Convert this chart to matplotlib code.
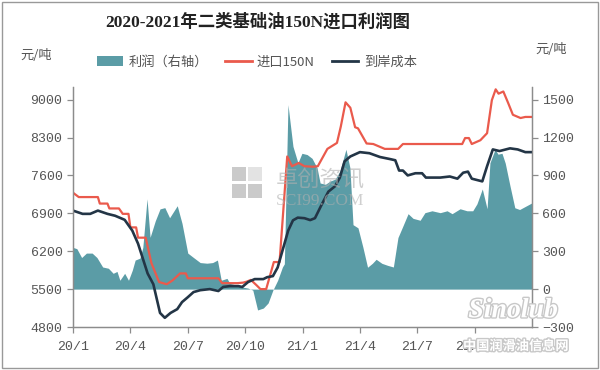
import numpy as np
import matplotlib
matplotlib.use("Agg")
import matplotlib.pyplot as plt
from matplotlib.patches import Patch, Rectangle
from matplotlib.lines import Line2D
import matplotlib.patheffects as pe

# months counted from 2020/1 (0) to end of 2021 (24)
red_x = [0.0, 0.3, 1.3, 1.4, 1.8, 1.9, 2.4, 2.6, 2.9, 3.0, 3.3, 3.4, 3.8, 4.1, 4.5,
         4.9, 5.2, 5.6, 5.9, 6.0, 7.6, 7.8, 8.6, 8.9, 9.1, 9.3, 9.6, 9.8, 10.1, 10.5,
         10.8, 11.2, 11.45, 11.8, 12.1, 12.55, 12.8, 13.3, 13.8, 14.0, 14.25, 14.5,
         14.75, 14.9, 15.35, 15.7, 16.3, 17.0, 17.25, 20.35, 20.5, 20.7, 20.85, 21.3,
         21.65, 21.9, 22.1, 22.25, 22.5, 22.75, 23.0, 23.4, 23.65, 24.0]
red_y = [7280, 7200, 7200, 7080, 7080, 6990, 6990, 6890, 6890, 6640, 6640, 6450, 6450, 5980, 5630,
         5590, 5660, 5790, 5790, 5700, 5700, 5610, 5610, 5620, 5640, 5670, 5570, 5500, 5500, 6000,
         6000, 7950, 7770, 7830, 7770, 7760, 7770, 8090, 8200, 8500, 8950, 8850,
         8490, 8470, 8190, 8180, 8090, 8090, 8180, 8180, 8290, 8290, 8180, 8250,
         8380, 8990, 9190, 9110, 9150, 8940, 8720, 8660, 8680, 8680]

cost_x = [0.0, 0.5, 0.9, 1.3, 1.8, 2.2, 2.7, 3.1, 3.4, 3.9, 4.2, 4.55, 4.8, 5.1, 5.45,
          5.7, 6.0, 6.3, 6.65, 7.15, 7.6, 7.85, 8.2, 8.65, 8.85, 9.15, 9.5, 9.95, 10.15,
          10.45, 10.7, 11.0, 11.25, 11.5, 11.75, 12.1, 12.4, 12.65, 13.0, 13.35, 13.7,
          13.95, 14.2, 14.5, 15.0, 15.5, 16.05, 16.6, 16.85, 17.05, 17.25, 17.5, 17.9,
          18.25, 18.45, 19.2, 19.7, 20.1, 20.4, 20.65, 20.85, 21.4, 21.65, 21.95, 22.3,
          22.85, 23.25, 23.65, 24.0]
cost_y = [6950, 6890, 6890, 6950, 6890, 6855, 6780, 6580, 6340, 5790, 5590, 5060, 4970, 5060, 5130,
          5260, 5350, 5445, 5480, 5500, 5465, 5540, 5555, 5555, 5540, 5630, 5685, 5685, 5720,
          5740, 5900, 6270, 6580, 6770, 6820, 6810, 6775, 6810, 7060, 7300, 7400,
          7560, 7860, 7950, 8030, 8010, 7940, 7900, 7880, 7690, 7690, 7600, 7640,
          7640, 7560, 7560, 7580, 7540, 7650, 7670, 7540, 7490, 7770, 8080, 8050,
          8100, 8080, 8030, 8030]

profit_x = [0.0, 0.2, 0.45, 0.7, 1.0, 1.25, 1.55, 1.85, 2.1, 2.3, 2.45, 2.7, 2.9, 3.1, 3.25,
            3.5, 3.65, 3.87, 4.03, 4.3, 4.55, 4.8, 5.05, 5.45, 5.7, 6.0, 6.3, 6.65, 7.0,
            7.3, 7.55, 7.75, 8.05, 8.2, 8.6, 8.9, 9.15, 9.4, 9.65, 9.95, 10.2, 10.45, 10.7,
            10.95, 11.05, 11.24, 11.5, 11.76, 11.97, 12.24, 12.5, 12.76, 12.92, 13.2, 13.44,
            13.7, 13.96, 14.27, 14.48, 14.64, 14.9, 15.16, 15.4, 15.65, 15.85, 16.15, 16.45,
            16.75, 16.99, 17.25, 17.52, 17.78, 18.15, 18.4, 18.77, 19.2, 19.56, 19.82, 20.24,
            20.6, 20.9, 21.12, 21.4, 21.65, 21.8, 22.07, 22.22, 22.43, 22.6, 22.85, 23.1,
            23.35, 24.0]
profit_y = [330, 320, 250, 285, 285, 250, 175, 165, 125, 140, 70, 125, 70, 150, 230,
            245, 330, 715, 410, 540, 635, 645, 565, 660, 520, 285, 250, 210, 205,
            210, 230, 70, 85, 45, 30, 15, 8, -8, -165, -150, -110, -8, 70,
            175, 200, 1460, 1130, 1000, 1075, 1065, 1035, 960, 840, 830, 855,
            870, 935, 1107, 960, 510, 485, 330, 173, 204, 236, 204, 188,
            175, 408, 500, 597, 560, 545, 605, 620, 605, 620, 597, 636,
            620, 620, 675, 793, 636, 1000, 1107, 1068, 1075, 997, 816, 644,
            630, 683]

tick_pos = [0, 3, 6, 9, 12, 15, 18, 21]
tick_labels = ["20/1", "20/4", "20/7", "20/10", "21/1", "21/4", "21/7", "21/10"]
left_ticks = [4800, 5500, 6200, 6900, 7600, 8300, 9000]
right_ticks = [-300, 0, 300, 600, 900, 1200, 1500]

teal = "#5b9ca6"
red = "#ea5a4c"
navy = "#233546"
cjk = ["Noto Sans CJK SC", "DejaVu Sans"]
num_font = "Liberation Mono"

fig = plt.figure(figsize=(6, 3.7), dpi=100)
ax = fig.add_axes([0.1217, 0.1162, 0.765, 0.6487])
ax2 = ax.twinx()

ax.set_zorder(2)
ax.patch.set_visible(False)

ax2.fill_between(profit_x, 0, profit_y, color=teal, linewidth=0)
ax.plot(red_x, red_y, color=red, lw=1.6)
ax.plot(cost_x, cost_y, color=navy, lw=1.9)

ax.set_xlim(0, 24)
ax.set_ylim(4800, 4800 + 1900 * 7 / 3)
ax2.set_ylim(-300, 1600)

ax.set_xticks(tick_pos)
ax.set_xticklabels(tick_labels)
ax.set_yticks(left_ticks)
ax2.set_yticks(right_ticks)

for a in (ax, ax2):
    for s in a.spines.values():
        s.set_color("#8c8c8c")
        s.set_linewidth(0.9)
    a.spines["top"].set_visible(False)
    a.tick_params(colors="#8c8c8c", labelcolor="#555555", length=4, width=0.9,
                  labelsize=9.5)
    for lab in a.get_xticklabels() + a.get_yticklabels():
        lab.set_fontfamily(num_font)
ax.tick_params(axis="x", pad=6)

# title and units
fig.text(0.43, 0.94, "2020-2021年二类基础油150N进口利润图", ha="center", va="center",
         fontsize=12.5, fontweight="bold", family=["Liberation Serif", "Noto Sans CJK SC"],
         color="#222222")
fig.text(0.06, 0.85, "元/吨", ha="center", va="center", fontsize=9.5, family=cjk, color="#555555")
fig.text(0.918, 0.865, "元/吨", ha="center", va="center", fontsize=9.5, family=cjk, color="#555555")

handles = [Patch(facecolor=teal, edgecolor="none"),
           Line2D([], [], color=red, lw=2),
           Line2D([], [], color=navy, lw=2)]
leg = fig.legend(handles, ["利润（右轴）", "进口150N", "到岸成本"], loc="center",
                 bbox_to_anchor=(0.428, 0.832), ncol=3, frameon=False,
                 prop={"family": cjk, "size": 9.5}, handlelength=2.0, handleheight=0.8,
                 columnspacing=1.3, handletextpad=0.4)
for t in leg.get_texts():
    t.set_color("#555555")

# watermarks
for (px, py, shade) in [(232, 167, "#bdbdbd"), (248, 167, "#dcdcdc"),
                        (232, 184, "#bdbdbd"), (248, 184, "#bdbdbd")]:
    fig.patches.append(Rectangle((px / 600, 1 - (py + 14) / 370), 14 / 600, 14 / 370,
                                 transform=fig.transFigure, facecolor=shade,
                                 edgecolor="none", alpha=0.8, zorder=5))
fig.text(0.533, 0.513, "卓创资讯", ha="center", va="center", fontsize=16, family=cjk,
         color="#b0b0b0", alpha=0.6, zorder=5)
fig.text(0.533, 0.457, "SCI99.COM", ha="center", va="center", fontsize=12.5,
         family="Liberation Serif", color="#b0b0b0", alpha=0.6, zorder=5)
fig.text(0.855, 0.16, "Sinolub", ha="center", va="center", fontsize=20, style="italic",
         fontweight="bold", family="Liberation Serif", color="white", zorder=6,
         path_effects=[pe.withStroke(linewidth=2, foreground="#c8c8c8")])
fig.text(0.86, 0.065, "中国润滑油信息网", ha="center", va="center", fontsize=9.5,
         fontweight="bold", family=cjk, color="white", zorder=6,
         path_effects=[pe.withStroke(linewidth=2, foreground="#c8c8c8")])

fig.patches.append(Rectangle((0.004, 0.005), 0.992, 0.99, transform=fig.transFigure,
                             fill=False, edgecolor="#999999", lw=1))

fig.savefig("out.png", dpi=100)
